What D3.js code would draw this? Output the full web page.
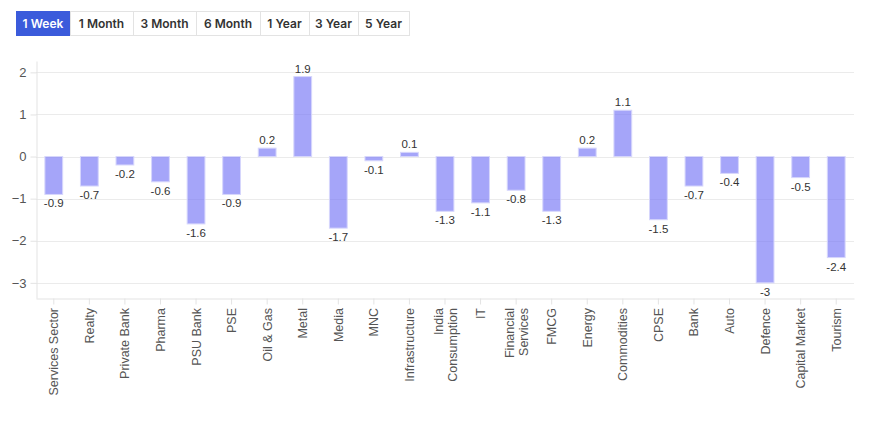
<!DOCTYPE html>
<html>
<head>
<meta charset="utf-8">
<script src="https://cdn.jsdelivr.net/npm/d3@7"></script>
<style>
  body { margin: 0; background: #fff; }
  svg { display: block; }
</style>
</head>
<body>
<div id="chart"></div>
<script>
// périodes (boutons)
const periods = ["1 Week", "1 Month", "3 Month", "6 Month", "1 Year", "3 Year", "5 Year"];
const periodWidths = [54, 63, 63, 64, 49, 49, 51];

// secteurs et variations (%)
const sectors = ["Services Sector", "Realty", "Private Bank", "Pharma", "PSU Bank", "PSE",
  "Oil & Gas", "Metal", "Media", "MNC", "Infrastructure", "India\nConsumption", "IT",
  "Financial\nServices", "FMCG", "Energy", "Commodities", "CPSE", "Bank", "Auto",
  "Defence", "Capital Market", "Tourism"];
const changes = [-0.9, -0.7, -0.2, -0.6, -1.6, -0.9, 0.2, 1.9, -1.7, -0.1, 0.1, -1.3, -1.1,
  -0.8, -1.3, 0.2, 1.1, -1.5, -0.7, -0.4, -3, -0.5, -2.4];
const yTicks = [-3, -2, -1, 0, 1, 2];

const width = 871;
const height = 423;
const margin = { top: 61, right: 17, bottom: 125, left: 36 };

const svg = d3.select("#chart").append("svg")
  .attr("width", width)
  .attr("height", height);

// Boutons
const btnX = [16];
periodWidths.forEach((w, i) => btnX.push(btnX[i] + w));
const btn = svg.append("g").attr("font-family", "Inter, 'Noto Sans', sans-serif")
  .attr("font-size", "12px").attr("font-weight", 600);
btn.append("rect")
  .attr("x", 16.5).attr("y", 11.5)
  .attr("width", btnX[btnX.length - 1] - 16).attr("height", 24)
  .attr("fill", "#fff").attr("stroke", "#e3e3e3");
periods.forEach((p, i) => {
  if (i === 0) {
    btn.append("rect").attr("x", 16).attr("y", 11)
      .attr("width", periodWidths[0]).attr("height", 25).attr("fill", "#3b5bdb");
  } else {
    btn.append("line").attr("x1", btnX[i] + 0.5).attr("x2", btnX[i] + 0.5)
      .attr("y1", 12).attr("y2", 35).attr("stroke", "#e3e3e3");
  }
  btn.append("text")
    .attr("x", btnX[i] + periodWidths[i] / 2).attr("y", 28)
    .attr("text-anchor", "middle")
    .attr("fill", i === 0 ? "#fff" : "#333")
    .text(p);
});

const x = d3.scaleBand()
  .domain(sectors)
  .range([margin.left, width - margin.right])
  .paddingInner(0.5)
  .paddingOuter(0.25);

const y = d3.scaleLinear()
  .domain([-3.36, 2.27])
  .range([height - margin.bottom, margin.top]);

// Grille
svg.append("g")
  .selectAll("line")
  .data(yTicks)
  .join("line")
  .attr("x1", margin.left).attr("x2", width - margin.right)
  .attr("y1", d => Math.round(y(d)) + 0.5).attr("y2", d => Math.round(y(d)) + 0.5)
  .attr("stroke", "#ebebeb");

// Axe Y
const yAxis = svg.append("g")
  .attr("transform", `translate(${margin.left + 0.5},0)`)
  .call(d3.axisLeft(y).tickValues(yTicks).tickFormat(d3.format("d"))
    .tickSize(6).tickPadding(4).tickSizeOuter(0));
yAxis.select(".domain").attr("stroke", "#e3e3e3");
yAxis.selectAll(".tick line").attr("stroke", "#e3e3e3");
yAxis.selectAll("text").attr("fill", "#555").attr("font-size", "13px")
  .attr("font-family", "'Liberation Sans', Arial, sans-serif");

// Axe X
const xAxis = svg.append("g")
  .attr("transform", `translate(0,${height - margin.bottom + 0.5})`)
  .call(d3.axisBottom(x).tickSize(6).tickSizeOuter(0).tickFormat(""));
xAxis.select(".domain").attr("stroke", "#e3e3e3");
xAxis.selectAll(".tick line").attr("stroke", "#e3e3e3");

svg.append("g")
  .selectAll("g")
  .data(sectors)
  .join("g")
  .attr("transform", d => `translate(${x(d) + x.bandwidth() / 2},${height - margin.bottom + 10}) rotate(-90)`)
  .each(function(d) {
    const lines = d.split("\n");
    const t = d3.select(this).append("text")
      .attr("text-anchor", "end")
      .attr("font-family", "'Liberation Sans', Arial, sans-serif")
      .attr("font-size", "12.5px")
      .attr("fill", "#555");
    lines.forEach((l, i) => {
      t.append("tspan")
        .attr("x", 0)
        .attr("y", (i - (lines.length - 1) / 2) * 14 + 4.5)
        .text(l);
    });
  });

// Barres
svg.append("g")
  .selectAll("rect")
  .data(changes)
  .join("rect")
  .attr("x", (d, i) => x(sectors[i]))
  .attr("width", x.bandwidth())
  .attr("y", d => y(Math.max(0, d)))
  .attr("height", d => Math.abs(y(d) - y(0)))
  .attr("fill", "#7575f6")
  .attr("fill-opacity", 0.65)
  .attr("stroke", "#d6d6fc")
  .attr("stroke-width", 1);

// Étiquettes
svg.append("g")
  .selectAll("text")
  .data(changes)
  .join("text")
  .attr("x", (d, i) => x(sectors[i]) + x.bandwidth() / 2)
  .attr("y", d => d >= 0 ? y(d) - 4 : y(d) + 13)
  .attr("text-anchor", "middle")
  .attr("font-family", "'Liberation Sans', Arial, sans-serif")
  .attr("font-size", "11.5px")
  .attr("fill", "#333")
  .text(d => d);
</script>
</body>
</html>
